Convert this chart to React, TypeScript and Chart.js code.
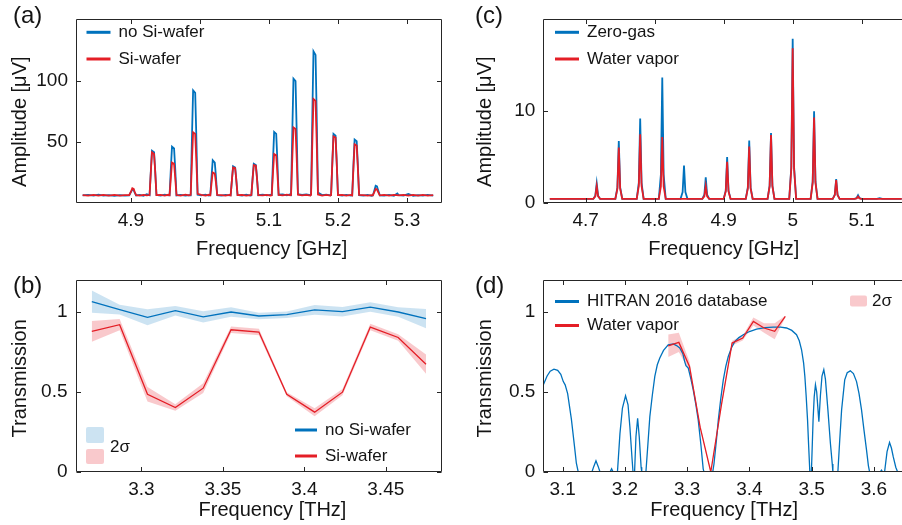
import React, { useEffect, useRef } from "react";
import { Chart, registerables } from "chart.js";
Chart.register(...registerables);

const FONT = '"Liberation Sans", Arial, Helvetica, sans-serif';
const INK = "#141414";
const FRAME = "#262626";
const BLUE = "rgb(0,114,189)";
const RED = "rgb(228,30,38)";
const BLUE_BAND = "rgba(0,114,189,0.2)";
const RED_BAND = "rgba(232,40,50,0.25)";

// ---------------- (a) spectra, GHz / µV
const A_X_TICKS = [4.9, 5.0, 5.1, 5.2, 5.3];
const A_Y_TICKS = [50, 100];
const A_NO_SI: [number, number][] = [
  [4.830, 6.2], [4.838, 6.6], [4.846, 6.0], [4.853, 6.8], [4.860, 6.1], [4.868, 6.4], [4.876, 5.9], [4.884, 6.5], [4.891, 6.0],
  [4.8975, 6.2], [4.9005, 9.5], [4.902, 11], [4.904, 10.5], [4.9055, 8.5], [4.9075, 6.2],
  [4.913, 6.6], [4.918, 5.8], [4.923, 7.2],
  [4.927, 6.3], [4.929, 28], [4.9305, 42.7], [4.9335, 41.5], [4.935, 28], [4.937, 6.5],
  [4.943, 6.0], [4.949, 6.8], [4.954, 6.2],
  [4.956, 6.4], [4.958, 30], [4.9595, 46], [4.9625, 44.5], [4.964, 30], [4.966, 6.2],
  [4.972, 6.7], [4.979, 6.0], [4.984, 6.5],
  [4.9866, 6.3], [4.9886, 58], [4.9901, 92], [4.9931, 90], [4.9946, 58], [4.9966, 6.8],
  [5.002, 6.2], [5.008, 6.9], [5.013, 6.1],
  [5.015, 6.5], [5.017, 23], [5.0185, 35], [5.0215, 33], [5.023, 23], [5.025, 6.3],
  [5.031, 6.0], [5.037, 6.7], [5.043, 6.2],
  [5.0445, 6.4], [5.0465, 20], [5.048, 30], [5.051, 29], [5.0525, 20], [5.0545, 6.5],
  [5.061, 6.1], [5.067, 6.8], [5.073, 6.0],
  [5.0745, 6.3], [5.0765, 22], [5.078, 32], [5.081, 31], [5.0825, 22], [5.0845, 6.4],
  [5.091, 6.9], [5.097, 6.2], [5.102, 6.6],
  [5.104, 6.5], [5.106, 37], [5.1075, 58], [5.1105, 56.5], [5.112, 37], [5.114, 6.8],
  [5.120, 7.0], [5.126, 6.3], [5.131, 7.2],
  [5.132, 6.8], [5.134, 63], [5.1355, 101.5], [5.1385, 99.5], [5.140, 63], [5.142, 7.2],
  [5.148, 6.6], [5.154, 7.1], [5.160, 6.4],
  [5.161, 7.0], [5.163, 77], [5.1645, 124], [5.1675, 121], [5.169, 77], [5.171, 8.5],
  [5.177, 6.5], [5.183, 6.9], [5.189, 6.2],
  [5.190, 6.4], [5.192, 36], [5.1935, 56.5], [5.1965, 55], [5.198, 36], [5.200, 6.6],
  [5.206, 6.0], [5.212, 6.7], [5.219, 6.1],
  [5.2206, 6.3], [5.2226, 33.5], [5.2241, 51.8], [5.2271, 50.5], [5.2286, 33.5], [5.2306, 6.4],
  [5.237, 6.0], [5.243, 6.6], [5.249, 5.9],
  [5.2506, 6.2], [5.2531, 11], [5.2546, 14], [5.2566, 13.5], [5.2581, 10.5], [5.2606, 6.3],
  [5.267, 6.0], [5.274, 6.6], [5.281, 5.9], [5.286, 7.8], [5.288, 6.5], [5.295, 6.0], [5.302, 7.4], [5.309, 5.9],
  [5.316, 6.5], [5.323, 6.1], [5.330, 6.6], [5.338, 6.0],
];
const A_SI: [number, number][] = [
  [4.830, 6.5], [4.838, 6.0], [4.846, 6.7], [4.853, 6.1], [4.860, 6.6], [4.868, 6.0], [4.876, 6.6], [4.884, 6.1], [4.891, 6.4],
  [4.8975, 6.4], [4.9005, 10], [4.902, 12], [4.904, 11.5], [4.9055, 9], [4.9075, 6.4],
  [4.913, 6.0], [4.918, 6.7], [4.923, 6.2],
  [4.927, 6.5], [4.929, 27], [4.9305, 41.4], [4.9335, 40], [4.935, 27], [4.937, 6.4],
  [4.943, 6.6], [4.949, 6.1], [4.954, 6.7],
  [4.956, 6.3], [4.958, 22], [4.9595, 33], [4.9625, 32], [4.964, 22], [4.966, 6.5],
  [4.972, 6.1], [4.979, 6.8], [4.984, 6.2],
  [4.9866, 6.6], [4.9886, 37], [4.9901, 57.8], [4.9931, 56.5], [4.9946, 37], [4.9966, 7.5],
  [5.002, 6.6], [5.008, 6.1], [5.013, 6.7],
  [5.015, 6.3], [5.017, 17.4], [5.0185, 25], [5.0215, 24], [5.023, 17.4], [5.025, 6.6],
  [5.031, 6.4], [5.037, 6.0], [5.043, 6.6],
  [5.0445, 6.2], [5.0465, 20], [5.048, 29], [5.051, 28.5], [5.0525, 20], [5.0545, 6.4],
  [5.061, 6.6], [5.067, 6.1], [5.073, 6.5],
  [5.0745, 6.6], [5.0765, 21], [5.078, 31], [5.081, 30.5], [5.0825, 21], [5.0845, 6.5],
  [5.091, 6.2], [5.097, 6.7], [5.102, 6.1],
  [5.104, 6.3], [5.106, 26.4], [5.1075, 40], [5.1105, 39], [5.112, 26.4], [5.114, 6.6],
  [5.120, 6.2], [5.126, 6.8], [5.131, 6.3],
  [5.132, 6.6], [5.134, 39.4], [5.1355, 61.7], [5.1385, 60.5], [5.140, 39.4], [5.142, 6.8],
  [5.148, 6.2], [5.154, 6.7], [5.160, 6.1],
  [5.161, 6.6], [5.163, 53.4], [5.1645, 85], [5.1675, 83.5], [5.169, 53.4], [5.171, 7.0],
  [5.177, 6.1], [5.183, 6.6], [5.189, 6.0],
  [5.190, 6.5], [5.192, 35], [5.1935, 54.4], [5.1965, 53.5], [5.198, 35], [5.200, 6.4],
  [5.206, 6.6], [5.212, 6.1], [5.219, 6.6],
  [5.2206, 6.2], [5.2226, 31], [5.2241, 48], [5.2271, 47], [5.2286, 31], [5.2306, 6.6],
  [5.237, 6.4], [5.243, 6.0], [5.249, 6.5],
  [5.2506, 6.4], [5.2531, 9.5], [5.2546, 11.5], [5.2566, 11], [5.2581, 9], [5.2606, 6.2],
  [5.267, 6.6], [5.274, 6.1], [5.281, 6.7], [5.288, 6.2], [5.295, 6.6], [5.302, 6.0], [5.309, 6.7],
  [5.316, 6.1], [5.323, 6.6], [5.330, 6.0], [5.338, 6.5],
];

// ---------------- (c) spectra, GHz / µV
const C_X_TICKS = [4.7, 4.8, 4.9, 5.0, 5.1];
const C_Y_TICKS = [0, 10];
const C_ZERO_GAS: [number, number][] = [
  [4.648, 0.45], [4.711, 0.45], [4.714, 0.8], [4.716, 2.15], [4.718, 0.8], [4.721, 0.45],
  [4.743, 0.45], [4.746, 1.7], [4.748, 6.76], [4.75, 1.7], [4.753, 0.45],
  [4.774, 0.45], [4.777, 2.2], [4.779, 9.2], [4.781, 2.2], [4.784, 0.45],
  [4.806, 0.45], [4.809, 3.1], [4.811, 13.66], [4.813, 3.1], [4.816, 0.45],
  [4.8375, 0.45], [4.8405, 1.2], [4.8425, 4.08], [4.8445, 1.2], [4.8475, 0.45],
  [4.869, 0.45], [4.872, 0.9], [4.874, 2.8], [4.876, 0.9], [4.879, 0.45],
  [4.9, 0.45], [4.903, 1.35], [4.905, 5.0], [4.907, 1.35], [4.91, 0.45],
  [4.932, 0.45], [4.935, 1.7], [4.937, 6.8], [4.939, 1.7], [4.942, 0.45],
  [4.9636, 0.45], [4.9666, 1.9], [4.9686, 7.63], [4.9706, 1.9], [4.9736, 0.45],
  [4.995, 0.45], [4.998, 3.95], [5.0, 17.9], [5.002, 3.95], [5.005, 0.45],
  [5.026, 0.45], [5.029, 2.35], [5.031, 10.0], [5.033, 2.35], [5.036, 0.45],
  [5.058, 0.45], [5.061, 0.9], [5.063, 2.6], [5.065, 0.9], [5.068, 0.45],
  [5.0897, 0.45], [5.0927, 0.55], [5.0947, 0.84], [5.0967, 0.55], [5.0997, 0.45],
  [5.122, 0.45], [5.126, 0.52], [5.13, 0.45], [5.158, 0.45],
];
const C_WATER: [number, number][] = [
  [4.648, 0.45], [4.711, 0.45], [4.714, 0.73], [4.716, 1.85], [4.718, 0.73], [4.721, 0.45],
  [4.743, 0.45], [4.746, 1.57], [4.748, 6.05], [4.75, 1.57], [4.753, 0.45],
  [4.774, 0.45], [4.777, 1.86], [4.779, 7.5], [4.781, 1.86], [4.784, 0.45],
  [4.806, 0.45], [4.809, 1.8], [4.811, 7.2], [4.813, 1.8], [4.816, 0.45],
  [4.869, 0.45], [4.872, 0.73], [4.874, 1.85], [4.876, 0.73], [4.879, 0.45],
  [4.9, 0.45], [4.903, 1.26], [4.905, 4.5], [4.907, 1.26], [4.91, 0.45],
  [4.932, 0.45], [4.935, 1.59], [4.937, 6.15], [4.939, 1.59], [4.942, 0.45],
  [4.9636, 0.45], [4.9666, 1.84], [4.9686, 7.4], [4.9706, 1.84], [4.9736, 0.45],
  [4.995, 0.45], [4.998, 3.73], [5.0, 16.85], [5.002, 3.73], [5.005, 0.45],
  [5.026, 0.45], [5.029, 2.22], [5.031, 9.3], [5.033, 2.22], [5.036, 0.45],
  [5.058, 0.45], [5.061, 0.86], [5.063, 2.5], [5.065, 0.86], [5.068, 0.45],
  [5.0897, 0.45], [5.0927, 0.5], [5.0947, 0.7], [5.0967, 0.5], [5.0997, 0.45],
  [5.158, 0.45],
];

// ---------------- (b) transmission, THz
const B_X_TICKS = [3.3, 3.35, 3.4, 3.45];
const T_Y_TICKS = [0, 0.5, 1];
const B_FREQ = [3.2695, 3.2866, 3.3037, 3.3208, 3.3379, 3.355, 3.3721, 3.3892, 3.4063, 3.4234, 3.4405, 3.4576, 3.4747];
const B_NO_SI = [1.065, 1.015, 0.967, 1.008, 0.969, 1.0, 0.975, 0.983, 1.013, 1.002, 1.031, 1.0, 0.958];
const B_NO_SI_ERR = [0.07, 0.03, 0.05, 0.03, 0.035, 0.03, 0.02, 0.02, 0.03, 0.03, 0.03, 0.03, 0.06];
const B_SI = [0.879, 0.921, 0.486, 0.403, 0.524, 0.889, 0.875, 0.486, 0.374, 0.499, 0.906, 0.841, 0.674];
const B_SI_ERR = [0.065, 0.035, 0.045, 0.02, 0.03, 0.02, 0.02, 0.012, 0.025, 0.02, 0.02, 0.02, 0.06];

// ---------------- (d) transmission, THz
const D_X_TICKS = [3.1, 3.2, 3.3, 3.4, 3.5, 3.6];
const D_HITRAN: [number, number][] = [
  [3.069, 0.545], [3.075, 0.6], [3.08, 0.63], [3.086, 0.643], [3.092, 0.635], [3.097, 0.61], [3.101, 0.565],
  [3.104, 0.545], [3.108, 0.49], [3.114, 0.33], [3.119, 0.16], [3.122, 0.055], [3.125, 0],
  [3.147, 0], [3.15, 0.035], [3.1535, 0.07], [3.157, 0.035], [3.16, 0],
  [3.176, 0], [3.1786, 0.02], [3.181, 0], [3.188, 0],
  [3.192, 0.24], [3.196, 0.4], [3.201, 0.476], [3.205, 0.42], [3.208, 0.28], [3.2115, 0.08], [3.213, 0],
  [3.2155, 0], [3.2177, 0.22], [3.2204, 0.336], [3.223, 0.22], [3.226, 0.03], [3.227, 0],
  [3.2337, 0], [3.237, 0.18], [3.24, 0.346], [3.244, 0.48], [3.248, 0.597], [3.252, 0.67], [3.256, 0.712],
  [3.262, 0.76], [3.2695, 0.795], [3.2776, 0.8], [3.283, 0.79], [3.288, 0.775], [3.293, 0.74], [3.296, 0.69],
  [3.298, 0.665], [3.3017, 0.649], [3.306, 0.58], [3.3097, 0.513], [3.314, 0.42], [3.3177, 0.326],
  [3.322, 0.17], [3.3257, 0.02], [3.327, 0],
  [3.341, 0], [3.343, 0.05], [3.347, 0.2], [3.35, 0.326], [3.354, 0.46], [3.358, 0.576], [3.362, 0.66],
  [3.366, 0.722], [3.371, 0.775], [3.3766, 0.816], [3.383, 0.84], [3.39, 0.858], [3.4, 0.878], [3.4114, 0.893],
  [3.425, 0.902], [3.438, 0.906], [3.45, 0.905], [3.4596, 0.9], [3.468, 0.885], [3.4756, 0.858], [3.48, 0.82],
  [3.4837, 0.764], [3.487, 0.68], [3.489, 0.597], [3.491, 0.48], [3.4933, 0.326], [3.495, 0.17], [3.497, 0],
  [3.4995, 0], [3.5022, 0.326], [3.504, 0.47], [3.506, 0.545], [3.508, 0.5], [3.5115, 0.315], [3.514, 0.48],
  [3.5165, 0.6], [3.5194, 0.639], [3.522, 0.58], [3.526, 0.388], [3.53, 0.18], [3.533, 0.05], [3.534, 0],
  [3.542, 0], [3.545, 0.2], [3.548, 0.388], [3.553, 0.576], [3.557, 0.62], [3.562, 0.632], [3.567, 0.615],
  [3.572, 0.565], [3.576, 0.49], [3.58, 0.388], [3.584, 0.26], [3.588, 0.138], [3.591, 0.04], [3.593, 0],
  [3.61, 0], [3.612, 0.012], [3.614, 0], [3.617, 0], [3.621, 0.127], [3.625, 0.184], [3.628, 0.15],
  [3.631, 0.094], [3.635, 0.03], [3.638, 0], [3.645, 0],
];
const D_FREQ = [3.2695, 3.2866, 3.3037, 3.3208, 3.3379, 3.355, 3.3721, 3.3892, 3.4063, 3.4234, 3.4405, 3.4576];
const D_WATER = [0.789, 0.81, 0.66, 0.28, 0.0, 0.42, 0.806, 0.837, 0.941, 0.9, 0.879, 0.972];
const D_WATER_ERR = [0.07, 0.06, 0.03, 0.01, 0.005, 0.01, 0.015, 0.015, 0.025, 0.03, 0.05, 0.005];

// ---------------- helpers
const pts = (a: [number, number][]) => a.map(([x, y]) => ({ x, y }));
const zipPts = (xs: number[], ys: number[]) => xs.map((x, i) => ({ x, y: ys[i] }));
const bandPts = (xs: number[], ys: number[], es: number[], s: number) => xs.map((x, i) => ({ x, y: ys[i] + s * es[i] }));
const fmt = (v: any) => String(Math.round(Number(v) * 1000) / 1000);

const decorPlugin = {
  id: "decor",
  afterDraw(chart: any, _a: any, o: any) {
    const ctx = chart.ctx as CanvasRenderingContext2D;
    const ca = chart.chartArea;
    const L = Math.round(ca.left) + 0.5;
    const R = Math.round(ca.right) - 0.5;
    const T = Math.round(ca.top) + 0.5;
    const B = Math.round(ca.bottom) - 0.5;
    ctx.save();
    for (const p of o.patches || []) {
      ctx.fillStyle = p.color;
      ctx.beginPath();
      (ctx as any).roundRect(p.x, p.y, p.w, p.h, 2);
      ctx.fill();
    }
    for (const l of o.lines || []) {
      ctx.strokeStyle = l.color;
      ctx.lineWidth = 3;
      ctx.beginPath();
      ctx.moveTo(l.x1, l.y);
      ctx.lineTo(l.x2, l.y);
      ctx.stroke();
    }
    ctx.fillStyle = INK;
    ctx.textBaseline = "middle";
    for (const t of o.texts || []) {
      ctx.font = `${t.size}px ${FONT}`;
      ctx.textAlign = t.align || "left";
      if (t.rot) {
        ctx.save();
        ctx.translate(t.x, t.y);
        ctx.rotate(-Math.PI / 2);
        ctx.fillText(t.text, 0, 0);
        ctx.restore();
      } else ctx.fillText(t.text, t.x, t.y);
    }
    ctx.strokeStyle = FRAME;
    ctx.lineWidth = 1;
    ctx.beginPath();
    ctx.moveTo(L, T);
    ctx.lineTo(L, B);
    ctx.lineTo(o.noRight ? ca.right + 2 : R, B);
    ctx.moveTo(L, T);
    ctx.lineTo(o.noRight ? ca.right + 2 : R, T);
    if (!o.noRight) ctx.lineTo(R, B);
    const TL = 4.5;
    const xs = chart.scales.x;
    const ys = chart.scales.y;
    for (const t of xs.ticks) {
      const px = Math.round(xs.getPixelForValue(t.value)) + 0.5;
      ctx.moveTo(px, B);
      ctx.lineTo(px, B - TL);
      ctx.moveTo(px, T);
      ctx.lineTo(px, T + TL);
    }
    for (const t of ys.ticks) {
      const py = Math.round(ys.getPixelForValue(t.value)) + 0.5;
      ctx.moveTo(L, py);
      ctx.lineTo(L + TL, py);
      if (!o.noRight) {
        ctx.moveTo(R, py);
        ctx.lineTo(R - TL, py);
      }
    }
    ctx.stroke();
    ctx.restore();
  },
};

function makeOptions(p: any) {
  const tickFont = { family: FONT, size: 19 };
  return {
    responsive: false,
    animation: false,
    events: [],
    layout: { padding: p.pad },
    plugins: { legend: { display: false }, tooltip: { enabled: false }, decor: p.decor },
    elements: { point: { radius: 0 }, line: { tension: 0 } },
    scales: {
      x: {
        type: "linear",
        min: p.xMin,
        max: p.xMax,
        grid: { display: false, drawTicks: false },
        border: { display: false },
        ticks: { font: tickFont, color: INK, padding: 6, maxRotation: 0, autoSkip: false, callback: fmt },
        afterBuildTicks: (s: any) => { s.ticks = p.xTicks.map((v: number) => ({ value: v })); },
        afterFit: (s: any) => { s.height = p.xH; },
      },
      y: {
        type: "linear",
        min: p.yMin,
        max: p.yMax,
        grid: { display: false, drawTicks: false },
        border: { display: false },
        ticks: { font: tickFont, color: INK, padding: 8, autoSkip: false, callback: fmt },
        afterBuildTicks: (s: any) => { s.ticks = p.yTicks.map((v: number) => ({ value: v })); },
        afterFit: (s: any) => { s.width = p.yW; },
      },
    },
  };
}

const lineDs = (data: any[], color: string, width: number, order: number) => ({
  data, borderColor: color, borderWidth: width, pointRadius: 0, fill: false, order, tension: 0,
});
const boundDs = (data: any[], order: number, fill: any, bg: string) => ({
  data, borderColor: "transparent", borderWidth: 0, pointRadius: 0, fill, backgroundColor: bg, order, tension: 0,
});

function configA() {
  return {
    type: "line",
    data: { datasets: [lineDs(pts(A_SI), RED, 1.8, 0), lineDs(pts(A_NO_SI), BLUE, 1.8, 1)] },
    options: makeOptions({
      xMin: 4.8204, xMax: 5.35, yMin: 0, yMax: 150, xTicks: A_X_TICKS, yTicks: A_Y_TICKS,
      yW: 76, xH: 57, pad: { left: 0, top: 13, right: 9.5, bottom: 0 },
      decor: {
        lines: [
          { color: BLUE, x1: 86.5, x2: 110.5, y: 32.3 },
          { color: RED, x1: 86.5, x2: 110.5, y: 59 },
        ],
        texts: [
          { text: "(a)", x: 13, y: 16, size: 24 },
          { text: "no Si-wafer", x: 118.5, y: 32.3, size: 17 },
          { text: "Si-wafer", x: 118.5, y: 59, size: 17 },
          { text: "Frequency [GHz]", x: 271.7, y: 249.5, size: 20, align: "center" },
          { text: "Amplitude [μV]", x: 20.7, y: 121.7, size: 20, align: "center", rot: true },
        ],
      },
    }),
    plugins: [decorPlugin],
  };
}

function configC() {
  return {
    type: "line",
    data: { datasets: [lineDs(pts(C_WATER), RED, 1.8, 0), lineDs(pts(C_ZERO_GAS), BLUE, 1.8, 1)] },
    options: makeOptions({
      xMin: 4.6386, xMax: 5.1584, yMin: 0, yMax: 20, xTicks: C_X_TICKS, yTicks: C_Y_TICKS,
      yW: 92.3, xH: 57, pad: { left: 0, top: 13, right: 0, bottom: 0 },
      decor: {
        noRight: true,
        lines: [
          { color: BLUE, x1: 104, x2: 128, y: 32.3 },
          { color: RED, x1: 104, x2: 128, y: 59 },
        ],
        texts: [
          { text: "(c)", x: 24, y: 16, size: 24 },
          { text: "Zero-gas", x: 136, y: 32.3, size: 17 },
          { text: "Water vapor", x: 136, y: 59, size: 17 },
          { text: "Frequency [GHz]", x: 272.8, y: 249.5, size: 20, align: "center" },
          { text: "Amplitude [μV]", x: 34, y: 121.7, size: 20, align: "center", rot: true },
        ],
      },
    }),
    plugins: [decorPlugin],
  };
}

function configB() {
  return {
    type: "line",
    data: {
      datasets: [
        lineDs(zipPts(B_FREQ, B_SI), RED, 1.3, 0),
        lineDs(zipPts(B_FREQ, B_NO_SI), BLUE, 1.3, 1),
        boundDs(bandPts(B_FREQ, B_SI, B_SI_ERR, -1), 3, false, RED_BAND),
        boundDs(bandPts(B_FREQ, B_SI, B_SI_ERR, 1), 3, "-1", RED_BAND),
        boundDs(bandPts(B_FREQ, B_NO_SI, B_NO_SI_ERR, -1), 2, false, BLUE_BAND),
        boundDs(bandPts(B_FREQ, B_NO_SI, B_NO_SI_ERR, 1), 2, "-1", BLUE_BAND),
      ],
    },
    options: makeOptions({
      xMin: 3.2595, xMax: 3.4842, yMin: 0, yMax: 1.2, xTicks: B_X_TICKS, yTicks: T_Y_TICKS,
      yW: 75.5, xH: 53, pad: { left: 0, top: 20, right: 9.5, bottom: 0 },
      decor: {
        patches: [
          { color: BLUE_BAND, x: 86, y: 167, w: 18, h: 16 },
          { color: RED_BAND, x: 86, y: 189, w: 18, h: 15 },
        ],
        lines: [
          { color: BLUE, x1: 295, x2: 317, y: 170 },
          { color: RED, x1: 295, x2: 317, y: 196 },
        ],
        texts: [
          { text: "(b)", x: 13, y: 26, size: 24 },
          { text: "2σ", x: 110, y: 187.5, size: 17 },
          { text: "no Si-wafer", x: 325, y: 170, size: 17 },
          { text: "Si-wafer", x: 325, y: 196, size: 17 },
          { text: "Frequency [THz]", x: 272.5, y: 250.5, size: 20, align: "center" },
          { text: "Transmission", x: 20.7, y: 118.3, size: 20, align: "center", rot: true },
        ],
      },
    }),
    plugins: [decorPlugin],
  };
}

function configD() {
  return {
    type: "line",
    data: {
      datasets: [
        lineDs(zipPts(D_FREQ, D_WATER), RED, 1.3, 0),
        lineDs(pts(D_HITRAN), BLUE, 1.3, 1),
        boundDs(bandPts(D_FREQ, D_WATER, D_WATER_ERR, -1), 3, false, RED_BAND),
        boundDs(bandPts(D_FREQ, D_WATER, D_WATER_ERR, 1), 3, "-1", RED_BAND),
      ],
    },
    options: makeOptions({
      xMin: 3.0689, xMax: 3.645, yMin: 0, yMax: 1.2, xTicks: D_X_TICKS, yTicks: T_Y_TICKS,
      yW: 92.3, xH: 53, pad: { left: 0, top: 20, right: 0, bottom: 0 },
      decor: {
        noRight: true,
        patches: [{ color: RED_BAND, x: 399, y: 35.5, w: 17, h: 11 }],
        lines: [
          { color: BLUE, x1: 104, x2: 128, y: 41.5 },
          { color: RED, x1: 104, x2: 128, y: 65.5 },
        ],
        texts: [
          { text: "(d)", x: 24, y: 26, size: 24 },
          { text: "HITRAN 2016 database", x: 136, y: 41.5, size: 17 },
          { text: "Water vapor", x: 136, y: 65.5, size: 17 },
          { text: "2σ", x: 421, y: 41, size: 17 },
          { text: "Frequency [THz]", x: 273.2, y: 250.5, size: 20, align: "center" },
          { text: "Transmission", x: 34, y: 118.3, size: 20, align: "center", rot: true },
        ],
      },
    }),
    plugins: [decorPlugin],
  };
}

function Panel({ x, y, w, h, make }: { x: number; y: number; w: number; h: number; make: () => any }) {
  const ref = useRef<HTMLCanvasElement>(null);
  useEffect(() => {
    const chart = new Chart(ref.current as HTMLCanvasElement, make());
    return () => chart.destroy();
  }, []);
  return (
    <div style={{ position: "absolute", left: x, top: y, width: w, height: h }}>
      <canvas ref={ref} width={w} height={h} style={{ display: "block", width: w, height: h }} />
    </div>
  );
}

export default function App() {
  return (
    <div style={{ position: "fixed", left: 0, top: 0, width: 902, height: 525, overflow: "hidden", background: "#fff" }}>
      <Panel x={0} y={0} w={451} h={260} make={configA} />
      <Panel x={451} y={0} w={451} h={260} make={configC} />
      <Panel x={0} y={260} w={451} h={265} make={configB} />
      <Panel x={451} y={260} w={451} h={265} make={configD} />
    </div>
  );
}
